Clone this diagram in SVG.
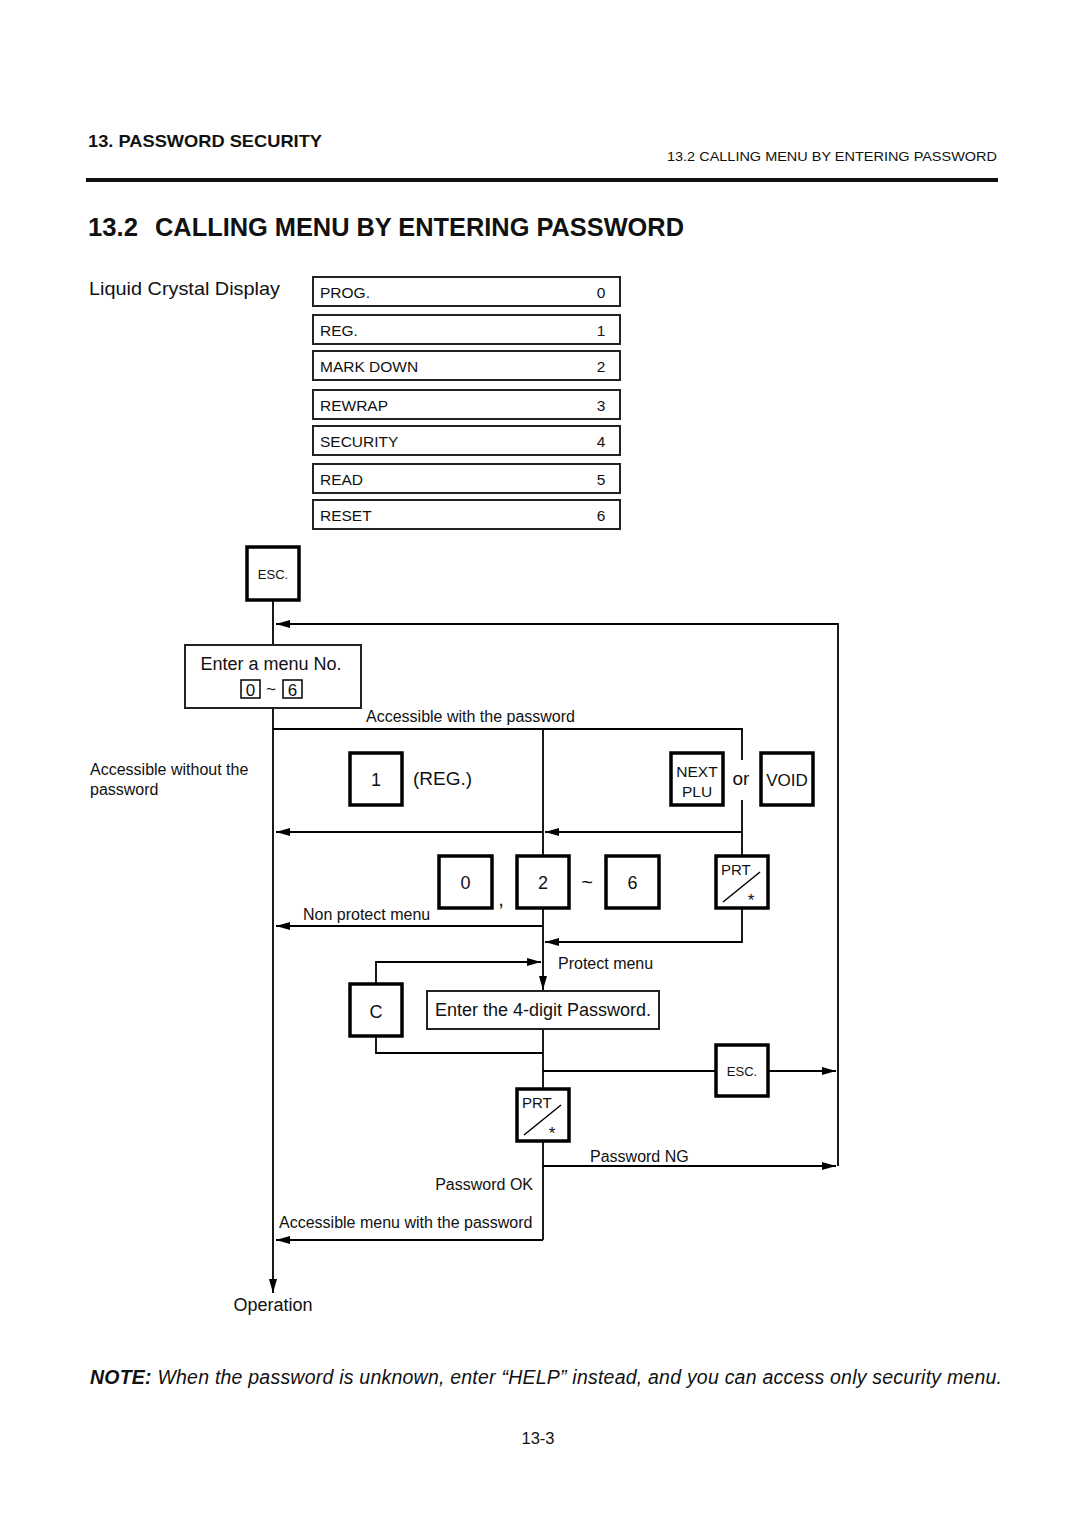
<svg xmlns="http://www.w3.org/2000/svg" width="1080" height="1525" viewBox="0 0 1080 1525">
<style>
text{font-family:"Liberation Sans",Arial,sans-serif;fill:#111}
.key{fill:#fff;stroke:#000;stroke-width:3.5}
.box{fill:#fff;stroke:#222;stroke-width:2}
.ln{fill:none;stroke:#000;stroke-width:1.8}
.mt{font-size:15.5px}
.lbl{font-size:16px}
.kt{font-size:18px;text-anchor:middle}
</style>
<defs>
<marker id="ah" markerWidth="14" markerHeight="8" refX="14" refY="4" orient="auto" markerUnits="userSpaceOnUse">
<path d="M0,0 L14,4 L0,8 Z" fill="#000"/>
</marker>
</defs>
<rect width="1080" height="1525" fill="#fff"/>
<g id="header">
<text x="88" y="147" font-size="17" font-weight="bold" textLength="234" lengthAdjust="spacingAndGlyphs">13. PASSWORD SECURITY</text>
<text x="997" y="161" font-size="13" text-anchor="end" textLength="330" lengthAdjust="spacingAndGlyphs">13.2 CALLING MENU BY ENTERING PASSWORD</text>
<rect x="86" y="178" width="912" height="4" fill="#111"/>
<text x="88" y="236" font-size="25" font-weight="bold" textLength="50" lengthAdjust="spacingAndGlyphs">13.2</text>
<text x="155" y="236" font-size="25" font-weight="bold" textLength="529" lengthAdjust="spacingAndGlyphs">CALLING MENU BY ENTERING PASSWORD</text>
<text x="89" y="295" font-size="19" textLength="191" lengthAdjust="spacingAndGlyphs">Liquid Crystal Display</text>
</g>
<g id="lcd-menu">
<g id="m0"><rect class="box" x="313" y="277" width="307" height="29"/><text class="mt" x="320" y="298">PROG.</text><text class="mt" x="601" y="298" text-anchor="middle">0</text></g>
<g id="m1"><rect class="box" x="313" y="315" width="307" height="29"/><text class="mt" x="320" y="336">REG.</text><text class="mt" x="601" y="336" text-anchor="middle">1</text></g>
<g id="m2"><rect class="box" x="313" y="351" width="307" height="29"/><text class="mt" x="320" y="372">MARK DOWN</text><text class="mt" x="601" y="372" text-anchor="middle">2</text></g>
<g id="m3"><rect class="box" x="313" y="390" width="307" height="29"/><text class="mt" x="320" y="411">REWRAP</text><text class="mt" x="601" y="411" text-anchor="middle">3</text></g>
<g id="m4"><rect class="box" x="313" y="426" width="307" height="29"/><text class="mt" x="320" y="447">SECURITY</text><text class="mt" x="601" y="447" text-anchor="middle">4</text></g>
<g id="m5"><rect class="box" x="313" y="464" width="307" height="29"/><text class="mt" x="320" y="485">READ</text><text class="mt" x="601" y="485" text-anchor="middle">5</text></g>
<g id="m6"><rect class="box" x="313" y="500" width="307" height="29"/><text class="mt" x="320" y="521">RESET</text><text class="mt" x="601" y="521" text-anchor="middle">6</text></g>
</g>
<g id="connectors">
<line class="ln" x1="273" y1="600" x2="273" y2="645"/>
<polyline class="ln" points="838,1166 838,624 276,624" marker-end="url(#ah)"/>
<line class="ln" x1="273" y1="708" x2="273" y2="1293" marker-end="url(#ah)"/>
<polyline class="ln" points="273,729 742,729 742,760"/>
<line class="ln" x1="742" y1="800" x2="742" y2="856"/>
<line class="ln" x1="543" y1="729" x2="543" y2="856"/>
<line class="ln" x1="742" y1="832" x2="545" y2="832" marker-end="url(#ah)"/>
<line class="ln" x1="543" y1="832" x2="276" y2="832" marker-end="url(#ah)"/>
<line class="ln" x1="543" y1="908" x2="543" y2="990" marker-end="url(#ah)"/>
<line class="ln" x1="543" y1="926" x2="276" y2="926" marker-end="url(#ah)"/>
<polyline class="ln" points="742,908 742,942 545,942" marker-end="url(#ah)"/>
<polyline class="ln" points="376,984 376,962 541,962" marker-end="url(#ah)"/>
<polyline class="ln" points="376,1036 376,1053 543,1053"/>
<line class="ln" x1="543" y1="1029" x2="543" y2="1089"/>
<line class="ln" x1="543" y1="1071" x2="716" y2="1071"/>
<line class="ln" x1="768" y1="1071" x2="836" y2="1071" marker-end="url(#ah)"/>
<line class="ln" x1="543" y1="1141" x2="543" y2="1240"/>
<line class="ln" x1="543" y1="1166" x2="836" y2="1166" marker-end="url(#ah)"/>
<line class="ln" x1="543" y1="1240" x2="276" y2="1240" marker-end="url(#ah)"/>
</g>
<g id="labels">
<text class="lbl" x="366" y="722">Accessible with the password</text>
<text class="lbl" x="90" y="775">Accessible without the</text>
<text class="lbl" x="90" y="795">password</text>
<text class="lbl" x="303" y="920">Non protect menu</text>
<text class="lbl" x="558" y="969">Protect menu</text>
<text class="lbl" x="590" y="1162">Password NG</text>
<text class="lbl" x="533" y="1190" text-anchor="end">Password OK</text>
<text class="lbl" x="279" y="1228">Accessible menu with the password</text>
<text x="273" y="1311" font-size="18" text-anchor="middle">Operation</text>
</g>
<g id="esc1"><rect class="key" x="247" y="547" width="52" height="53"/><text x="273" y="579" font-size="13" text-anchor="middle">ESC.</text></g>
<g id="enter-menu">
<rect class="box" x="185" y="645" width="176" height="63"/>
<text x="271" y="670" font-size="18" text-anchor="middle">Enter a menu No.</text>
<rect fill="none" stroke="#000" stroke-width="1.5" x="241" y="680" width="19" height="18"/>
<text x="250.5" y="696" font-size="17" text-anchor="middle">0</text>
<text x="271" y="695" font-size="17" text-anchor="middle">~</text>
<rect fill="none" stroke="#000" stroke-width="1.5" x="283" y="680" width="19" height="18"/>
<text x="292.5" y="696" font-size="17" text-anchor="middle">6</text>
</g>
<g id="key1"><rect class="key" x="350" y="753" width="52" height="52"/><text class="kt" x="376" y="786">1</text></g>
<text x="413" y="785" font-size="19">(REG.)</text>
<g id="key-nextplu"><rect class="key" x="671" y="753" width="52" height="52"/><text x="697" y="777" font-size="15.5" text-anchor="middle">NEXT</text><text x="697" y="797" font-size="15.5" text-anchor="middle">PLU</text></g>
<text x="741" y="785" font-size="19" text-anchor="middle">or</text>
<g id="key-void"><rect class="key" x="761" y="753" width="52" height="52"/><text x="787" y="786" font-size="17" text-anchor="middle">VOID</text></g>
<g id="key0"><rect class="key" x="439" y="856" width="53" height="52"/><text class="kt" x="465.5" y="889">0</text></g>
<text x="501" y="906" font-size="20" text-anchor="middle">,</text>
<g id="key2"><rect class="key" x="517" y="856" width="52" height="52"/><text class="kt" x="543" y="889">2</text></g>
<text x="587" y="889" font-size="20" text-anchor="middle">~</text>
<g id="key6"><rect class="key" x="606" y="856" width="53" height="52"/><text class="kt" x="632.5" y="889">6</text></g>
<g id="prt1"><rect class="key" x="716" y="856" width="52" height="52"/><text x="721" y="875" font-size="15">PRT</text><line x1="723" y1="902" x2="760" y2="872" stroke="#000" stroke-width="1.5"/><text x="751" y="906" font-size="17" text-anchor="middle">*</text></g>
<g id="keyC"><rect class="key" x="350" y="984" width="52" height="52"/><text class="kt" x="376" y="1018">C</text></g>
<g id="enter-pw"><rect class="box" x="427" y="991" width="232" height="38"/><text x="435" y="1016" font-size="18">Enter the 4-digit Password.</text></g>
<g id="esc2"><rect class="key" x="716" y="1045" width="52" height="51"/><text x="742" y="1076" font-size="13" text-anchor="middle">ESC.</text></g>
<g id="prt2"><rect class="key" x="517" y="1089" width="52" height="52"/><text x="522" y="1108" font-size="15">PRT</text><line x1="524" y1="1135" x2="561" y2="1105" stroke="#000" stroke-width="1.5"/><text x="552" y="1139" font-size="17" text-anchor="middle">*</text></g>
<g id="footer">
<text x="90" y="1384" font-size="19.5" font-style="italic" textLength="912" lengthAdjust="spacing"><tspan font-weight="bold">NOTE:</tspan>  When the password is unknown, enter “HELP” instead, and you can access only security menu.</text>
<text x="538" y="1444" font-size="16.5" text-anchor="middle">13-3</text>
</g>
</svg>
